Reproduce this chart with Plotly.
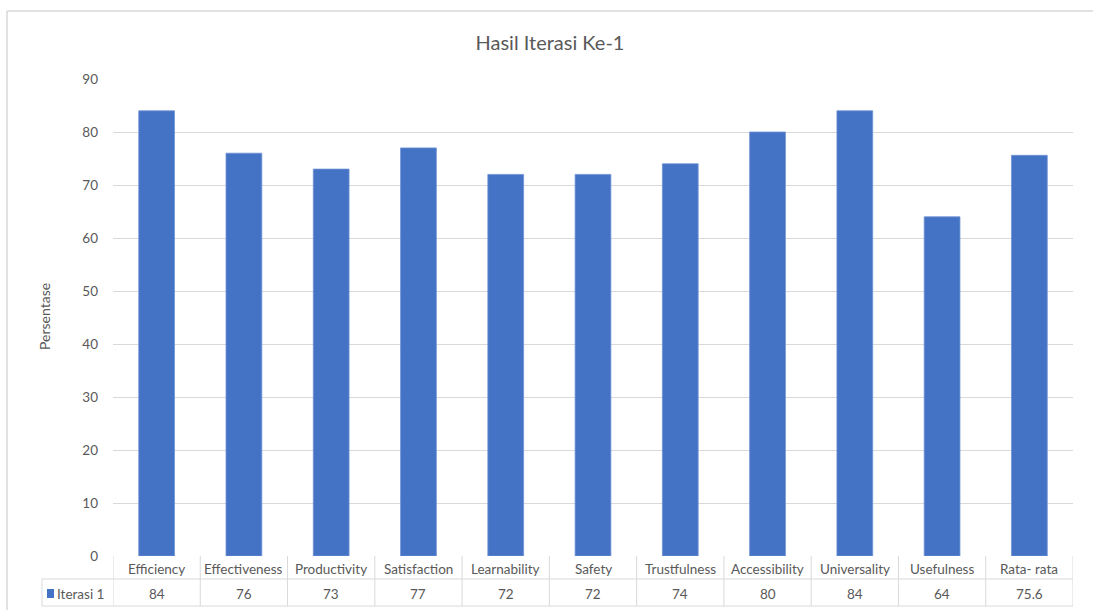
import plotly.graph_objects as go

categories = ["Efficiency", "Effectiveness", "Productivity", "Satisfaction", "Learnability",
              "Safety", "Trustfulness", "Accessibility", "Universality", "Usefulness", "Rata- rata"]
values = [84, 76, 73, 77, 72, 72, 74, 80, 84, 64, 75.6]
series_name = "Iterasi 1"
y_ticks = [0, 10, 20, 30, 40, 50, 60, 70, 80, 90]

W, H = 1093, 610
L, R, T, B = 113, 20, 79, 54
pw = W - L - R
ph = H - T - B

def px_x(p):
    return (p - L) / pw

def px_y(p):
    return (H - B - p) / ph

FONT = "Lato, Calibri, sans-serif"
TXT = "#595959"
GRID = "#d9d9d9"
BLUE = "#4472C4"
FS = 13.5

fig = go.Figure()
fig.add_trace(go.Bar(x=list(range(len(categories))), y=values, width=0.41,
                     marker=dict(color=BLUE, line=dict(width=0.8, color="#6f93d6")),
                     name=series_name, showlegend=False))

shapes = []
annotations = []
n = len(categories)
row1_bot = px_y(579)
row2_bot = px_y(606)
leg_left = px_x(42)

# vertical table lines at category boundaries
for i in range(n + 1):
    shapes.append(dict(type="line", xref="x", yref="paper", x0=i - 0.5, x1=i - 0.5,
                       y0=0, y1=row2_bot, line=dict(color=GRID, width=1)))
# horizontal lines
shapes.append(dict(type="line", xref="paper", yref="paper", x0=leg_left, x1=1,
                   y0=row1_bot, y1=row1_bot, line=dict(color=GRID, width=1)))
shapes.append(dict(type="line", xref="paper", yref="paper", x0=leg_left, x1=1,
                   y0=row2_bot, y1=row2_bot, line=dict(color=GRID, width=1)))
shapes.append(dict(type="line", xref="paper", yref="paper", x0=leg_left, x1=leg_left,
                   y0=row1_bot, y1=row2_bot, line=dict(color=GRID, width=1)))
# legend key
shapes.append(dict(type="rect", xref="paper", yref="paper",
                   x0=px_x(47), x1=px_x(54), y0=px_y(598), y1=px_y(589),
                   fillcolor=BLUE, line=dict(width=0)))
# outer chart frame (left and top)
shapes.append(dict(type="line", xref="paper", yref="paper", x0=px_x(7), x1=px_x(7),
                   y0=px_y(11), y1=px_y(615), line=dict(color=GRID, width=1.5)))
shapes.append(dict(type="line", xref="paper", yref="paper", x0=px_x(7), x1=px_x(1100),
                   y0=px_y(11), y1=px_y(11), line=dict(color=GRID, width=1.5)))

for i, (c, v) in enumerate(zip(categories, values)):
    annotations.append(dict(x=i, y=px_y(569), xref="x", yref="paper", text=c,
                            showarrow=False, font=dict(family=FONT, size=FS, color=TXT),
                            yanchor="middle"))
    annotations.append(dict(x=i, y=px_y(594), xref="x", yref="paper", text=f"{v:g}",
                            showarrow=False, font=dict(family=FONT, size=FS, color=TXT),
                            yanchor="middle"))
annotations.append(dict(x=px_x(55), y=px_y(594), xref="paper", yref="paper", text=series_name,
                        showarrow=False, xanchor="left", yanchor="middle",
                        font=dict(family=FONT, size=FS, color=TXT)))
annotations.append(dict(x=px_x(44), y=px_y(317), xref="paper", yref="paper", text="Persentase",
                        textangle=-90, showarrow=False, xanchor="center", yanchor="middle",
                        font=dict(family=FONT, size=14, color=TXT)))

fig.update_layout(
    width=W, height=H,
    margin=dict(l=L, r=R, t=T, b=B),
    paper_bgcolor="white", plot_bgcolor="white",
    title=dict(text="Hasil Iterasi Ke-1", x=550 / W, xref="container", xanchor="center",
               y=1 - 43 / H, yref="container", yanchor="middle",
               font=dict(family=FONT, size=20, color=TXT)),
    xaxis=dict(range=[-0.5, n - 0.5], showticklabels=False, showgrid=False, zeroline=False,
               showline=False, ticks=""),
    yaxis=dict(range=[0, 90], tickvals=y_ticks, showgrid=True, gridcolor=GRID, gridwidth=1,
               zeroline=False, showline=False, ticks="", ticklabelstandoff=14,
               tickfont=dict(family=FONT, size=FS, color=TXT)),
    shapes=shapes,
    annotations=annotations,
    bargap=0.59,
)

fig.write_html("out.html", config={"displayModeBar": False},
               post_script="document.body.style.margin='0px';")
